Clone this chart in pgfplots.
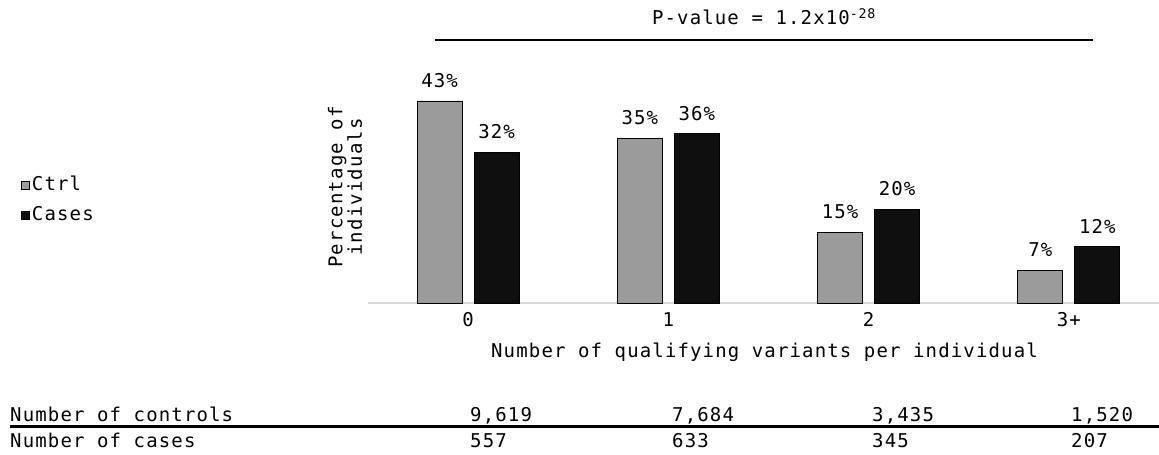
\documentclass[border=0pt]{standalone}
\usepackage{pgfplots}
\pgfplotsset{compat=1.18}
\usepackage{fontspec}
\setmainfont[LetterSpace=6]{DejaVu Sans Mono}
\definecolor{ctrl}{HTML}{9B9B9B}
\definecolor{cases}{HTML}{0F0F0F}
\newcommand{\cf}{\fontsize{19}{20}\selectfont}
\begin{document}
\begin{tikzpicture}[x=1pt,y=1pt]
\cf
\path[use as bounding box] (0,0) rectangle (1159,455);
\begin{axis}[
  at={(368pt,152pt)}, anchor=south west, scale only axis,
  width=791pt, height=235pt,
  xmin=-0.5, xmax=3.45, ymin=0, ymax=50,
  axis x line=bottom, axis y line=none,
  x axis line style={-, draw=black!15, line width=2pt},
  xtick={0,1,2,3}, xticklabels={0,1,2,3+}, major tick length=0pt,
  xticklabel style={font=\cf, yshift=-6pt, inner sep=3pt},
  ybar, bar width=45pt,
  /pgf/number format/assume math mode=true,
  nodes near coords={\pgfmathprintnumber{\pgfplotspointmeta}\%},
  nodes near coords style={font=\cf, yshift=10pt, inner sep=3pt},
  legend style={at={(-0.4425,0.438)}, anchor=west, draw=none, fill=none, font=\cf, row sep=9pt},
  legend cell align=left,
  legend image code/.code={\draw[#1, line width=0.8pt] (0pt,-4pt) rectangle (8pt,4pt);},
  clip=false,
]
\addplot[fill=ctrl, draw=black, line width=0.8pt, bar shift=-28.5pt] coordinates {(0,43) (1,35) (2,15) (3,7)};
\addplot[fill=cases, draw=black, line width=0.8pt, bar shift=28.5pt] coordinates {(0,32) (1,36) (2,20) (3,12)};
\legend{Ctrl,Cases}
\end{axis}
\node at (764,438) {P-value = 1.2x10\textsuperscript{-28}};
\draw[line width=2pt] (435,414.5) -- (1093,414.5);
\node[rotate=90, align=center, font=\fontsize{19}{17.5}\selectfont] at (345,268) {Percentage of\\individuals};
\node at (764.5,103) {Number of qualifying variants per individual};
\begin{scope}[every node/.style={anchor=base west, inner sep=0pt}]
\node at (10,33) {Number of controls};
\node at (10,7) {Number of cases};
\node at (470,33) {9,619};
\node at (672,33) {7,684};
\node at (872,33) {3,435};
\node at (1071,33) {1,520};
\node at (470,7) {557};
\node at (672,7) {633};
\node at (872,7) {345};
\node at (1071,7) {207};
\end{scope}
\draw[line width=3pt] (10,28.5) -- (1159,28.5);
\end{tikzpicture}
\end{document}
